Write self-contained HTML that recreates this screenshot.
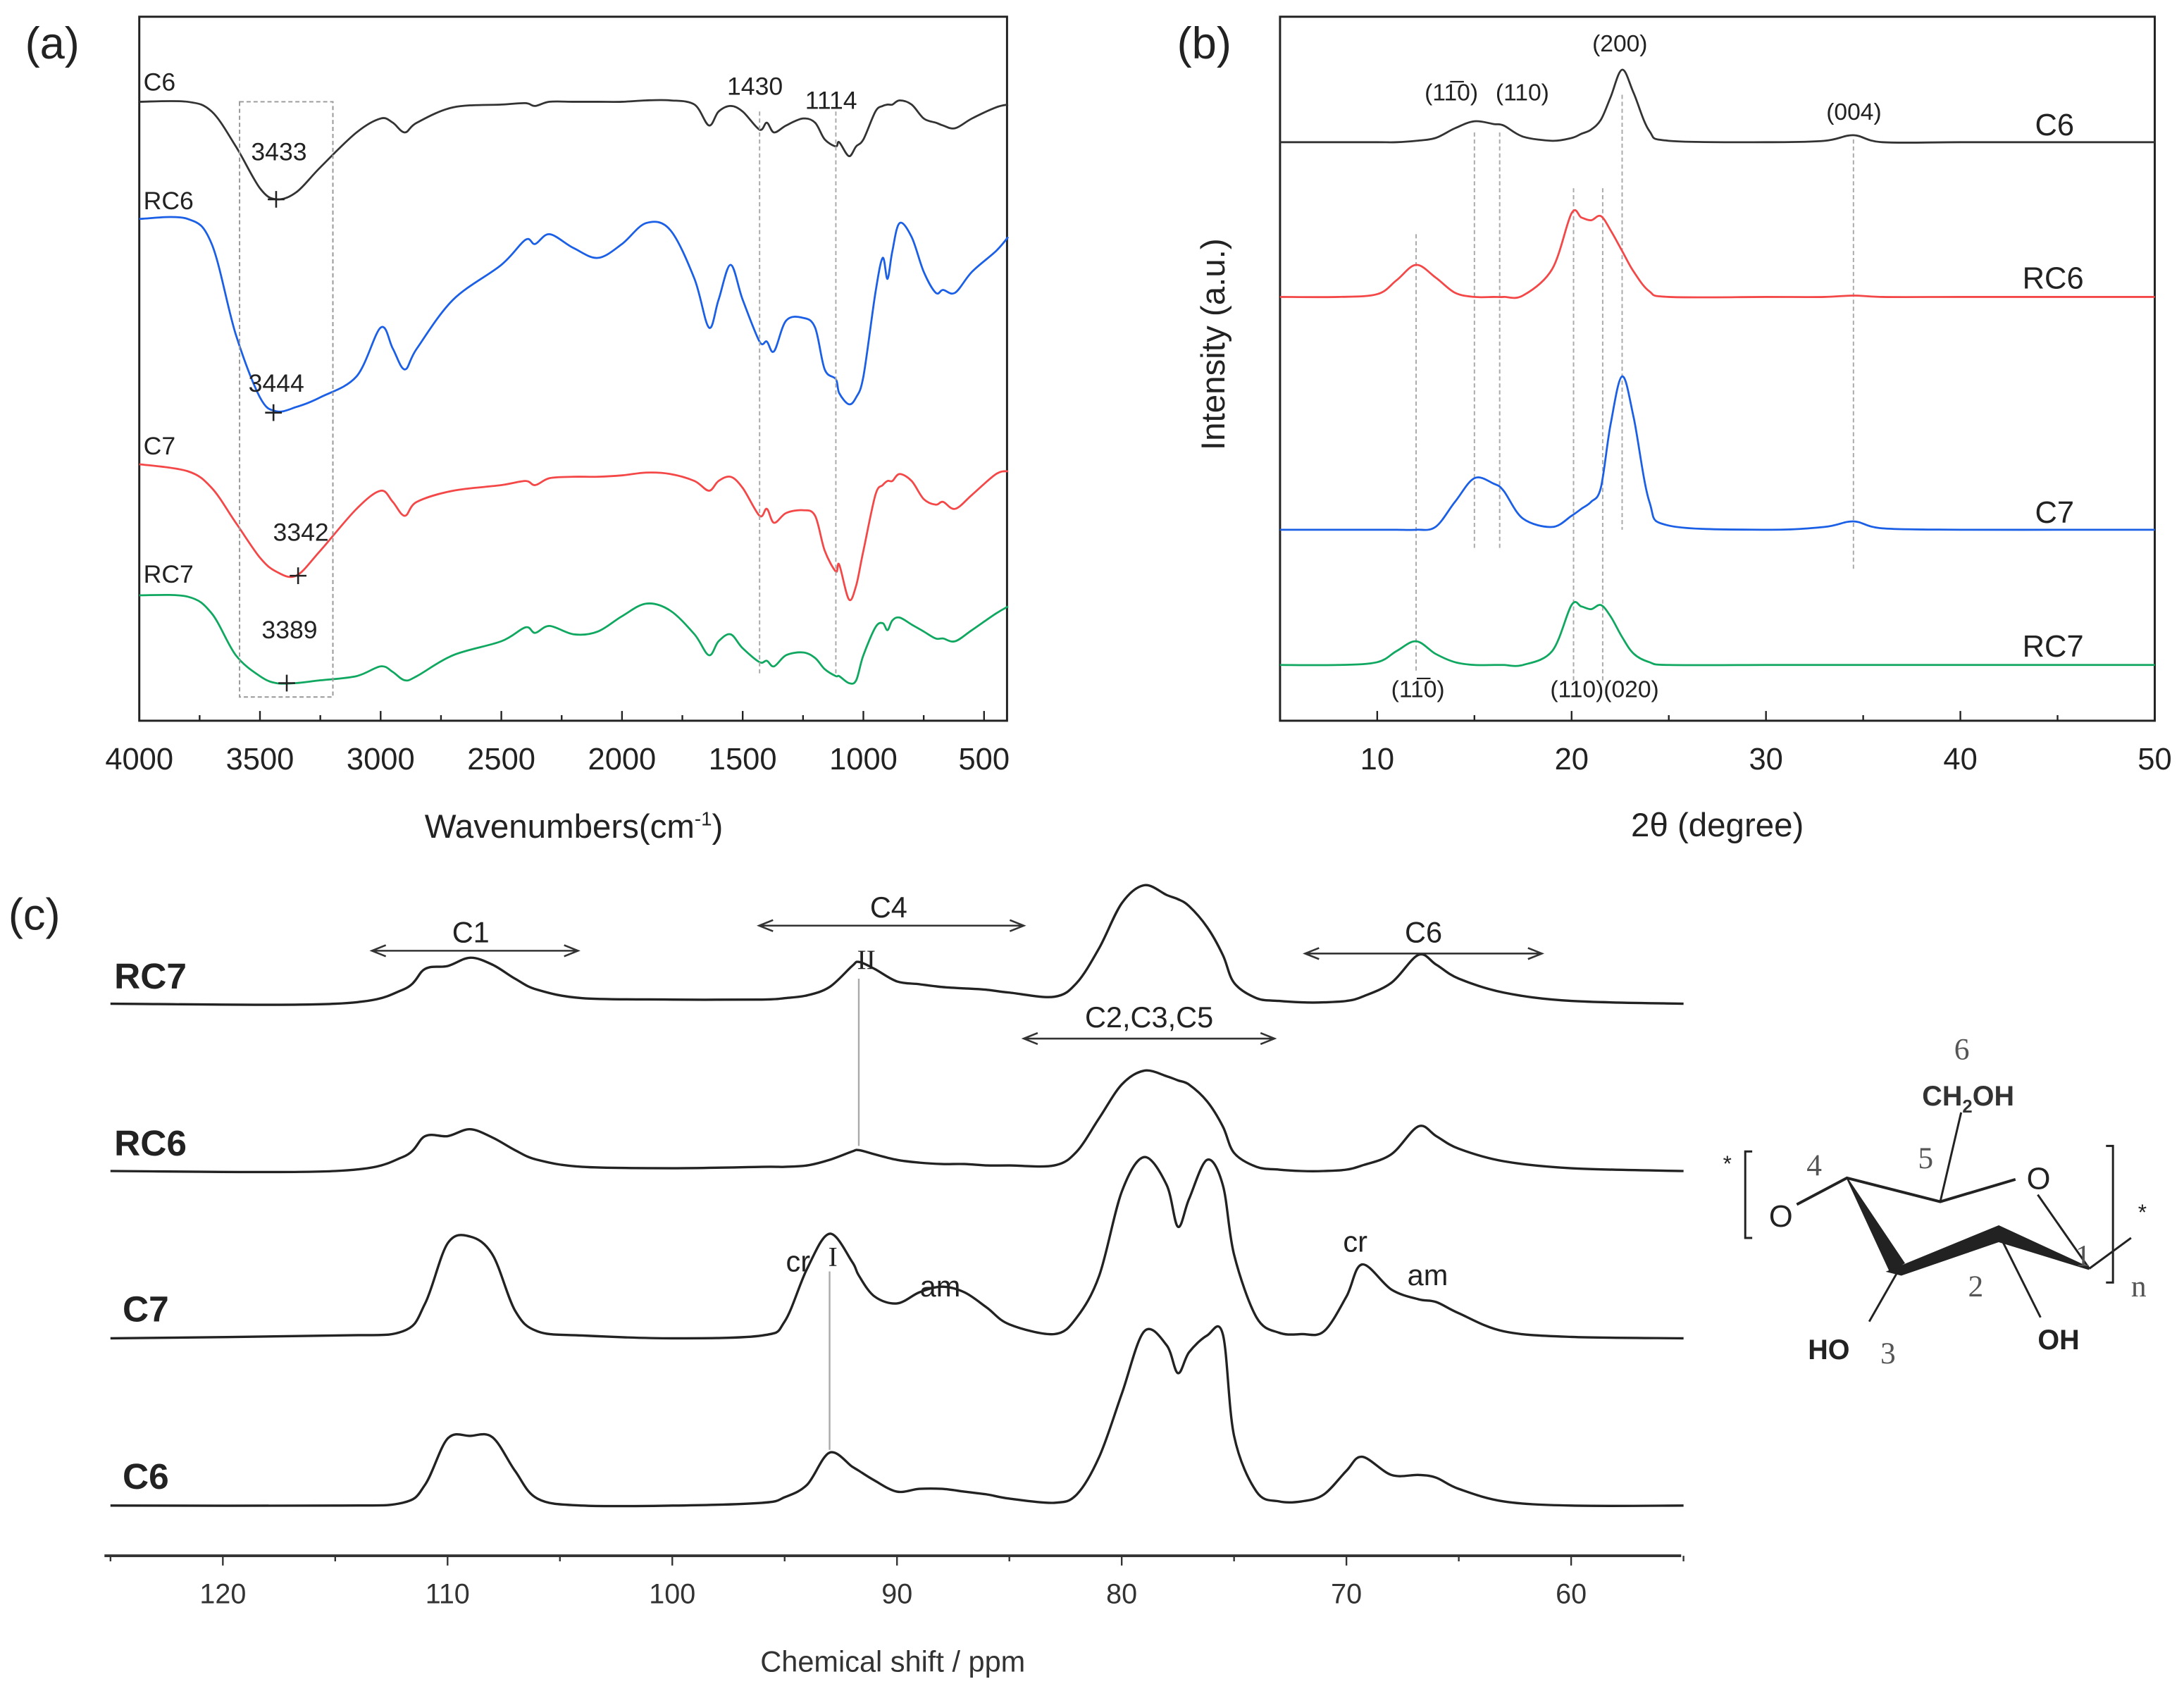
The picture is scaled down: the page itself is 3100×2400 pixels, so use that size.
<!DOCTYPE html>
<html><head><meta charset="utf-8"><style>
html,body{margin:0;padding:0;background:#fff;}
svg{display:block;}
text{font-family:"Liberation Sans",sans-serif;}
.serif{font-family:"Liberation Serif",serif;}
</style></head><body>
<svg id="fig" width="3100" height="2400" viewBox="0 0 1568 1213" preserveAspectRatio="none" xmlns="http://www.w3.org/2000/svg">
<g id="pa"></g>
<g id="pb"></g>
<g id="pc"></g>
<g id="st" fill="none" stroke="#222">
  <text x="1237" y="840" font-size="16" fill="#222" stroke="none">*</text>
  <path d="M1258,826 L1253,826 L1253,888 L1258,888" stroke-width="1.5"/>
  <text x="1270" y="880" font-size="22" fill="#222" stroke="none">O</text>
  <text x="1297" y="843" font-size="22" class="serif" fill="#555" stroke="none">4</text>
  <text x="1377" y="838" font-size="22" class="serif" fill="#555" stroke="none">5</text>
  <text x="1403" y="760" font-size="22" class="serif" fill="#555" stroke="none">6</text>
  <text x="1380" y="793" font-size="20" font-weight="bold" fill="#333" stroke="none">CH<tspan font-size="13" dy="5">2</tspan><tspan dy="-5">OH</tspan></text>
  <text x="1455" y="853" font-size="22" fill="#222" stroke="none">O</text>
  <path d="M1290,864 L1326,845 L1393,862 L1447,846" stroke-width="2"/>
  <path d="M1393,862 L1408,798" stroke-width="1.5"/>
  <path d="M1463,857 L1500,910" stroke-width="1.5"/>
  <path d="M1326,845 L1357,912 L1367,906 Z" fill="#222" stroke-width="1"/>
  <path d="M1357,912 L1435,880 L1500,910 L1435,890 L1365,914 Z" fill="#222" stroke-width="2"/>
  <path d="M1362,913 L1342,948" stroke-width="1.5"/>
  <path d="M1435,885 L1465,945" stroke-width="1.5"/>
  <path d="M1500,910 L1530,888" stroke-width="1.5"/>
  <text x="1490" y="908" font-size="22" class="serif" fill="#555" stroke="none">1</text>
  <text x="1413" y="930" font-size="22" class="serif" fill="#555" stroke="none">2</text>
  <text x="1298" y="975" font-size="20" font-weight="bold" fill="#222" stroke="none">HO</text>
  <text x="1350" y="978" font-size="22" class="serif" fill="#555" stroke="none">3</text>
  <text x="1463" y="968" font-size="20" font-weight="bold" fill="#222" stroke="none">OH</text>
  <path d="M1512,822 L1517,822 L1517,920 L1512,920" stroke-width="1.5"/>
  <text x="1535" y="875" font-size="16" fill="#222" stroke="none">*</text>
  <text x="1530" y="930" font-size="22" class="serif" fill="#555" stroke="none">n</text>
</g>
</svg>
<script>
// ---------- FTIR data ----------
const ftirWn = [4000,3800,3700,3600,3500,3433,3350,3250,3100,3000,2950,2900,2850,2700,2500,2400,2360,2300,2200,2100,2000,1900,1800,1700,1640,1600,1550,1500,1430,1400,1370,1320,1250,1200,1160,1114,1100,1060,1030,1000,950,920,900,880,850,800,750,700,670,620,550,450,400];
const ftirC6 = [0,0,-7,-32,-62,-70,-65,-47,-22,-12,-15,-22,-15,-4,-2,-1,-3,0,0,0,0,1,1,-2,-17,-7,-3,-7,-20,-15,-22,-17,-12,-15,-27,-32,-29,-39,-32,-27,-7,-3,-2,-2,1,-2,-12,-15,-17,-19,-12,-4,-2];
const ftirRC6 = [0,0,-18,-83,-128,-138,-135,-128,-113,-78,-93,-108,-93,-58,-33,-15,-18,-11,-21,-28,-18,-3,-8,-43,-78,-58,-33,-58,-88,-88,-95,-73,-71,-78,-108,-115,-125,-133,-128,-113,-53,-28,-43,-23,-3,-13,-38,-53,-51,-53,-38,-23,-13];
const ftirC7 = [0,-5,-17,-42,-67,-77,-80,-62,-32,-19,-27,-37,-27,-19,-15,-12,-15,-10,-9,-9,-8,-6,-7,-12,-19,-12,-9,-17,-37,-32,-42,-35,-33,-37,-62,-77,-72,-97,-87,-62,-22,-15,-12,-12,-7,-12,-25,-29,-27,-32,-22,-7,-5];
const ftirRC7 = [0,-1,-13,-43,-58,-63,-63,-61,-58,-51,-55,-61,-58,-43,-33,-23,-27,-22,-28,-26,-15,-6,-11,-28,-43,-33,-28,-38,-48,-47,-51,-43,-41,-45,-53,-58,-58,-63,-61,-43,-23,-20,-25,-18,-16,-21,-26,-31,-31,-33,-25,-13,-8];
const ftirTicks = [4000,3500,3000,2500,2000,1500,1000,500];
// ---------- XRD data ----------
const xrdTheta = [5,8,10,11,12,13,14,15,16,16.5,17.5,19,20,20.5,21,21.5,22,22.6,23.2,24,25,30,33,34.5,36,40,45,50];
const xrdC6 = [0,0,0,0,1,3,10,15,13,12,4,1,3,6,9,16,32,52,35,8,1,0,1,5,0,0,0,0];
const xrdRC6 = [0,0,2,12,23,14,3,0,0,0,1,20,60,57,55,58,48,33,18,4,0,0,0,1,0,0,0,0];
const xrdC7 = [0,0,0,0,0,2,20,37,33,28,8,2,10,15,20,30,75,110,80,20,3,0,2,6,1,0,0,0];
const xrdRC7 = [0,0,2,10,17,8,2,0,0,0,0,10,43,42,40,43,35,20,8,2,0,0,0,0,0,0,0,0];
const xrdTicks = [10,20,30,40,50];
// ---------- NMR data ----------
const nmrPpm = [125,115,112,111,110,109,108,107,106,104,100,96,95,94,93,92,91.7,91,90,89,88,87,86,85,83,82,81,80,79,78,77.5,77,76.2,75.5,75,74,73,72,71,70,69.3,68,66.8,66,65,63,60,55];
const nmrRC7 = [0,0,10,25,27,33,28,18,10,4,3,3,4,6,12,27,30,25,16,14,12,11,10,8,5,15,40,72,85,78,75,70,55,35,15,4,2,1,1,2,5,15,35,28,18,8,2,0];
const nmrRC6 = [0,0,10,25,25,30,24,15,8,3,2,3,3,4,8,14,15,12,8,6,5,5,4,4,4,14,38,62,72,68,65,62,50,32,13,3,1,0,0,1,4,12,32,25,16,7,2,0];
const nmrC7 = [0,2,5,25,68,73,60,20,5,2,0,2,12,50,75,55,45,30,25,33,37,33,22,10,3,15,45,105,130,110,80,100,128,110,60,15,4,3,5,30,53,35,28,26,18,5,1,0];
const nmrC6 = [0,0,2,15,48,50,49,25,5,0,0,2,6,15,38,28,25,18,10,12,12,10,8,5,2,8,35,80,125,115,95,110,122,123,50,10,3,3,8,25,35,22,22,20,12,3,0,0];
const nmrTicks = [120,110,100,90,80,70,60];

const NS='http://www.w3.org/2000/svg';
function mk(parent,tag,attrs,txt){const e=document.createElementNS(NS,tag);for(const k in attrs)e.setAttribute(k,attrs[k]);if(txt!==undefined)e.textContent=txt;parent.appendChild(e);return e;}
function smooth(pts){let d='M'+pts[0][0].toFixed(1)+','+pts[0][1].toFixed(1);
 for(let i=0;i<pts.length-1;i++){const p0=pts[Math.max(0,i-1)],p1=pts[i],p2=pts[i+1],p3=pts[Math.min(pts.length-1,i+2)];
  const c1=[p1[0]+(p2[0]-p0[0])/6,p1[1]+(p2[1]-p0[1])/6],c2=[p2[0]-(p3[0]-p1[0])/6,p2[1]-(p3[1]-p1[1])/6];
  d+='C'+c1[0].toFixed(1)+','+c1[1].toFixed(1)+' '+c2[0].toFixed(1)+','+c2[1].toFixed(1)+' '+p2[0].toFixed(1)+','+p2[1].toFixed(1);}
 return d;}
function txt(g,x,y,s,size,name,extra){const a={x:x,y:y,'font-size':size,fill:'#222'};if(extra)for(const k in extra)a[k]=extra[k];const t=mk(g,'text',a,s);
 
 return t;}

// ---------- Panel A ----------
(function(){
 const g=document.getElementById('pa');
 const L=100,R=723,T=12,B=517;
 const xA=w=>L+(4000-w)*(606.5/3500);
 const yA=(v,base)=>base-v;
 const box=mk(g,'rect',{x:L,y:T,width:R-L,height:B-T,fill:'none',stroke:'#222','stroke-width':1.5});
 
 
 txt(g,18,42,'(a)',32,'panel-a-label');
 for(let w=4000;w>=450;w-=250){const x=xA(w);const t=mk(g,'line',{x1:x,x2:x,y1:B,y2:B-(w%500===0?7:4),stroke:'#222','stroke-width':1.2});
  
  }
 ftirTicks.forEach(w=>txt(g,xA(w),552,String(w),22,'x-tick-label',{'text-anchor':'middle'}));
 const ti=txt(g,412,601,'Wavenumbers(cm',24,'x-axis-title',{'text-anchor':'middle'});
 mk(ti,'tspan',{dy:-9,'font-size':14},'-1');mk(ti,'tspan',{dy:9},')');
 const series=[[ftirC6,73,'#333','c6'],[ftirRC6,157,'#1a5fe6','rc6'],[ftirC7,333,'#f44848','c7'],[ftirRC7,427,'#10a860','rc7']];
 series.forEach(s=>{const pts=ftirWn.map((w,i)=>[xA(w),yA(s[0][i],s[1])]);
  const p=mk(g,'path',{d:smooth(pts),fill:'none',stroke:s[2],'stroke-width':1.4});
  
  });
 const db=mk(g,'rect',{x:172,y:73,width:67,height:427,fill:'none',stroke:'#999','stroke-width':1,'stroke-dasharray':'3,2'});
 
 
 [1430,1114].forEach(w=>{const l=mk(g,'line',{x1:xA(w),x2:xA(w),y1:80,y2:485,stroke:'#aaa','stroke-width':1,'stroke-dasharray':'3,2'});
  
  });
 txt(g,103,65,'C6',18,'series-label-c6');txt(g,103,150,'RC6',18,'series-label-rc6');
 txt(g,103,326,'C7',18,'series-label-c7');txt(g,103,418,'RC7',18,'series-label-rc7');
 txt(g,522,68,'1430',18,'peak-label-1430');txt(g,578,78,'1114',18,'peak-label-1114');
 [['3433',3433,115,143],['3444',3444,281,296],['3342',3342,388,413],['3389',3389,458,490]].forEach(a=>{
  txt(g,xA(a[1])-18,a[2],a[0],18,'peak-label-'+a[0]);
  const x=xA(a[1]);const pl=mk(g,'path',{d:`M${x-6},${a[3]}H${x+6}M${x},${a[3]-6}V${a[3]+6}`,stroke:'#222','stroke-width':1.3});
  
  });
})();

// ---------- Panel B ----------
(function(){
 const g=document.getElementById('pb');
 const L=919,R=1547,T=12,B=517;
 const xB=t=>L+(t-5)*(R-L)/45;
 const yB=(v,base)=>base-v;
 const box=mk(g,'rect',{x:L,y:T,width:R-L,height:B-T,fill:'none',stroke:'#222','stroke-width':1.5});
 
 
 txt(g,845,42,'(b)',32,'panel-b-label');
 for(let t=5;t<=50;t+=5){const x=xB(t);const tk=mk(g,'line',{x1:x,x2:x,y1:B,y2:B-(t%10===0?7:4),stroke:'#222','stroke-width':1.2});
  
  }
 xrdTicks.forEach(t=>txt(g,xB(t),552,String(t),22,'x-tick-label',{'text-anchor':'middle'}));
 txt(g,1233,600,'2θ (degree)',24,'x-axis-title',{'text-anchor':'middle'});
 txt(g,0,0,'Intensity (a.u.)',24,'y-axis-title',{'text-anchor':'middle',transform:'translate(879,247) rotate(-90)'});
 [[12,168,482],[15,95,395],[16.3,95,395],[20.1,135,490],[21.6,135,490],[22.6,68,380],[34.5,100,408]].forEach(d=>{
  const l=mk(g,'line',{x1:xB(d[0]),x2:xB(d[0]),y1:d[1],y2:d[2],stroke:'#aaa','stroke-width':1,'stroke-dasharray':'3,2'});
  
  });
 const series=[[xrdC6,102,'#333','c6'],[xrdRC6,213,'#f44848','rc6'],[xrdC7,380,'#1a5fe6','c7'],[xrdRC7,477,'#10a860','rc7']];
 series.forEach(s=>{const pts=xrdTheta.map((t,i)=>[xB(t),yB(s[0][i],s[1])]);
  const p=mk(g,'path',{d:smooth(pts),fill:'none',stroke:s[2],'stroke-width':1.4});
  
  });
 txt(g,1461,97,'C6',22,'series-label-c6');txt(g,1452,207,'RC6',22,'series-label-rc6');
 txt(g,1461,375,'C7',22,'series-label-c7');txt(g,1452,471,'RC7',22,'series-label-rc7');
 txt(g,1042,72,'(11\u03050)',17,'peak-label-1-10',{'text-anchor':'middle'});
 txt(g,1093,72,'(110)',17,'peak-label-110',{'text-anchor':'middle'});
 txt(g,1163,37,'(200)',17,'peak-label-200',{'text-anchor':'middle'});
 txt(g,1331,86,'(004)',17,'peak-label-004',{'text-anchor':'middle'});
 txt(g,1018,500,'(11\u03050)',17,'peak-label-1-10-ii',{'text-anchor':'middle'});
 txt(g,1152,500,'(110)(020)',17,'peak-label-110-020',{'text-anchor':'middle'});
})();

// ---------- Panel C ----------
(function(){
 const g=document.getElementById('pc');
 const L=75,R=1207,AX=1116;
 const xC=p=>160+(120-p)*(1128-160)/60;
 const yC=(v,base)=>base-v;
 txt(g,6,667,'(c)',32,'panel-c-label');
 const ax=mk(g,'line',{x1:L,x2:R,y1:AX,y2:AX,stroke:'#333','stroke-width':2});
 
 
 for(let p=125;p>=55;p-=5){const x=xC(p);const tk=mk(g,'line',{x1:x,x2:x,y1:AX,y2:AX+(p%10===0?7:4),stroke:'#333','stroke-width':1.2});
  
  }
 nmrTicks.forEach(p=>txt(g,xC(p),1150,String(p),20,'x-tick-label',{'text-anchor':'middle',fill:'#333'}));
 txt(g,641,1199,'Chemical shift / ppm',21,'x-axis-title',{'text-anchor':'middle',fill:'#333'});
 const series=[[nmrRC7,720,'rc7'],[nmrRC6,840,'rc6'],[nmrC7,960,'c7'],[nmrC6,1080,'c6']];
 series.forEach(s=>{const pts=nmrPpm.map((p,i)=>[xC(p),yC(s[0][i],s[1])]);
  const p=mk(g,'path',{d:smooth(pts),fill:'none',stroke:'#222','stroke-width':1.7});
  
  });
 txt(g,82,709,'RC7',26,'series-label-rc7',{'font-weight':'bold'});
 txt(g,82,829,'RC6',26,'series-label-rc6',{'font-weight':'bold'});
 txt(g,88,948,'C7',26,'series-label-c7',{'font-weight':'bold'});
 txt(g,88,1068,'C6',26,'series-label-c6',{'font-weight':'bold'});
 function arrow(x1,x2,y,name){const a=mk(g,'path',{d:`M${x1},${y}H${x2}M${x1+10},${y-4}L${x1},${y}L${x1+10},${y+4}M${x2-10},${y-4}L${x2},${y}L${x2-10},${y+4}`,stroke:'#333','stroke-width':1.3,fill:'none'});
  
  }
 arrow(267,415,682,'c1-range-arrow');txt(g,338,676,'C1',21,'c1-label',{'text-anchor':'middle'});
 arrow(545,735,664,'c4-range-arrow');txt(g,638,658,'C4',21,'c4-label',{'text-anchor':'middle'});
 arrow(937,1107,684,'c6-range-arrow');txt(g,1022,676,'C6',21,'c6-label',{'text-anchor':'middle'});
 arrow(735,915,745,'c235-range-arrow');txt(g,825,737,'C2,C3,C5',21,'c235-label',{'text-anchor':'middle'});
 txt(g,622,695,'II',20,'form-ii-label',{'text-anchor':'middle',class:'serif'});
 const l1=mk(g,'line',{x1:xC(91.7),x2:xC(91.7),y1:702,y2:822,stroke:'#aaa','stroke-width':1.2});
 
 
 const l2=mk(g,'line',{x1:xC(93),x2:xC(93),y1:912,y2:1040,stroke:'#aaa','stroke-width':1.2});
 
 
 txt(g,573,912,'cr',21,'cr-label-c4',{'text-anchor':'middle'});
 txt(g,598,908,'I',20,'form-i-label',{'text-anchor':'middle',class:'serif'});
 txt(g,675,930,'am',21,'am-label-c4',{'text-anchor':'middle'});
 txt(g,973,898,'cr',21,'cr-label-c6',{'text-anchor':'middle'});
 txt(g,1025,922,'am',21,'am-label-c6',{'text-anchor':'middle'});
})();
</script>
</body></html>
